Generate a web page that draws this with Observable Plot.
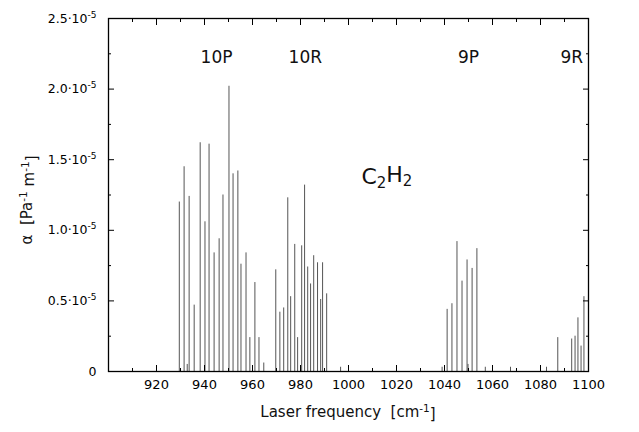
<!DOCTYPE html>
<html>
<head>
<meta charset="utf-8">
<script src="https://cdn.jsdelivr.net/npm/d3@7"></script>
<script src="https://cdn.jsdelivr.net/npm/@observablehq/plot@0.6"></script>
<style>
  body { margin: 0; background: #fff; }
  #chart { width: 639px; height: 432px; }
  svg { font-family: "DejaVu Sans", sans-serif; }
</style>
</head>
<body>
<div id="chart"></div>
<script>
// Laser frequencies (cm^-1) and absorption coefficients (units of 1e-5 Pa^-1 m^-1)
const freq10P = [929.5, 931.5, 933.6, 935.7, 938.2, 940.2, 941.9, 944.0, 946.1, 947.7, 950.2, 951.9, 953.9, 955.2, 957.3, 958.9, 961.0, 962.7, 932.8, 964.7];
const alpha10P = [1.20, 1.45, 1.24, 0.47, 1.62, 1.06, 1.61, 0.84, 0.94, 1.25, 2.02, 1.40, 1.42, 0.76, 0.84, 0.24, 0.63, 0.24, 0.05, 0.06];
const freq10R = [969.7, 971.4, 973.0, 974.7, 975.9, 977.6, 978.8, 980.5, 981.7, 983.0, 984.2, 985.5, 987.1, 988.4, 989.2, 990.9, 996.7];
const alpha10R = [0.72, 0.42, 0.45, 1.23, 0.53, 0.90, 0.24, 0.89, 1.32, 0.74, 0.62, 0.82, 0.77, 0.51, 0.77, 0.55, 0.03];
const freq9P = [1039.0, 1041.1, 1043.1, 1045.2, 1047.3, 1049.4, 1051.5, 1053.5, 1049.8, 1057.0, 1067.5];
const alpha9P = [0.03, 0.44, 0.48, 0.92, 0.64, 0.79, 0.73, 0.87, 0.05, 0.03, 0.03];
const freq9R = [1082.5, 1087.2, 1093.0, 1094.4, 1095.6, 1096.9, 1098.1];
const alpha9R = [0.03, 0.24, 0.23, 0.25, 0.38, 0.18, 0.53];

const majorX = [920, 940, 960, 980, 1000, 1020, 1040, 1060, 1080, 1100];
const minorX = [910, 930, 950, 970, 990, 1010, 1030, 1050, 1070, 1090];
const majorY = [0, 0.5, 1.0, 1.5, 2.0, 2.5];
const majorYLabels = ["0", "0.5·10", "1.0·10", "1.5·10", "2.0·10", "2.5·10"];
const minorY = [0.25, 0.75, 1.25, 1.75, 2.25];
const branchNames = ["10P", "10R", "9P", "9R"];
const branchX = [945, 982, 1050, 1093];

const lines = [];
[[freq10P, alpha10P], [freq10R, alpha10R], [freq9P, alpha9P], [freq9R, alpha9R]].forEach(([fs, as]) => {
  fs.forEach((f, i) => lines.push({f, a: as[i]}));
});
const branches = branchNames.map((n, i) => ({n, x: branchX[i]}));

const chart = Plot.plot({
  width: 639,
  height: 432,
  marginLeft: 108,
  marginRight: 51,
  marginTop: 18,
  marginBottom: 61,
  style: {fontFamily: "DejaVu Sans, sans-serif", fontSize: "13px", background: "#fff"},
  x: {domain: [900, 1100]},
  y: {domain: [0, 2.5]},
  marks: [
    Plot.ruleX(lines, {x: "f", y1: 0, y2: "a", stroke: "#555", strokeWidth: 1}),
    Plot.frame({stroke: "#000", strokeWidth: 1.3}),
    // inward ticks on all sides
    Plot.axisX(majorX, {anchor: "bottom", tickSize: -6, text: null, label: null}),
    Plot.axisX(minorX, {anchor: "bottom", tickSize: -3, text: null, label: null}),
    Plot.axisX(majorX, {anchor: "top", tickSize: -6, text: null, label: null}),
    Plot.axisX(minorX, {anchor: "top", tickSize: -3, text: null, label: null}),
    Plot.axisY(majorY, {anchor: "left", tickSize: -6, text: null, label: null}),
    Plot.axisY(minorY, {anchor: "left", tickSize: -3, text: null, label: null}),
    Plot.axisY(majorY, {anchor: "right", tickSize: -6, text: null, label: null}),
    Plot.axisY(minorY, {anchor: "right", tickSize: -3, text: null, label: null}),
    // tick labels
    Plot.axisX(majorX, {anchor: "bottom", tickSize: 0, tickPadding: 8, label: null, tickFormat: d => String(d), fontSize: 13}),
    Plot.axisY(majorY, {anchor: "left", tickSize: 0, tickPadding: 12, label: null,
      tickFormat: (d, i) => majorYLabels[majorY.indexOf(d)], fontSize: 12.5}),
    // branch labels
    Plot.text(branches, {x: "x", y: 2.22, text: "n", fontSize: 17, fill: "#111"}),
    // molecule label
    Plot.text(["C2H2"], {x: 1016, y: 1.38, text: d => d, fontSize: 22, fill: "#111", className: "molecule"})
  ]
});

document.getElementById("chart").appendChild(chart);

const svg = d3.select(chart);
// superscripts for y tick labels
svg.selectAll("g[aria-label='y-axis tick label'] text").each(function() {
  const t = d3.select(this);
  const s = t.text();
  if (s.endsWith("·10")) {
    t.text(s);
    t.append("tspan").attr("dy", "-0.55em").attr("font-size", "0.72em").text("-5");
  }
});
// subscripts for C2H2
svg.selectAll("g.molecule text, .molecule text").each(function() {
  const t = d3.select(this);
  t.text("C");
  t.append("tspan").attr("dy", "0.3em").attr("font-size", "0.68em").text("2");
  t.append("tspan").attr("dy", "-0.3em").text("H");
  t.append("tspan").attr("dy", "0.3em").attr("font-size", "0.68em").text("2");
});

// axis titles
const xt = svg.append("text")
  .attr("x", 348).attr("y", 417)
  .attr("text-anchor", "middle")
  .attr("font-size", 15).attr("fill", "#111");
xt.append("tspan").text("Laser frequency\u00a0\u00a0[cm");
xt.append("tspan").attr("dy", "-0.5em").attr("font-size", "0.7em").text("-1");
xt.append("tspan").attr("dy", "0.5em").text("]");

const yt = svg.append("text")
  .attr("transform", "translate(32,200) rotate(-90)")
  .attr("text-anchor", "middle")
  .attr("font-size", 15).attr("fill", "#111");
yt.append("tspan").text("α\u00a0\u00a0[Pa");
yt.append("tspan").attr("dy", "-0.5em").attr("font-size", "0.7em").text("-1");
yt.append("tspan").attr("dy", "0.5em").text(" m");
yt.append("tspan").attr("dy", "-0.5em").attr("font-size", "0.7em").text("-1");
yt.append("tspan").attr("dy", "0.5em").text("]");
</script>
</body>
</html>
